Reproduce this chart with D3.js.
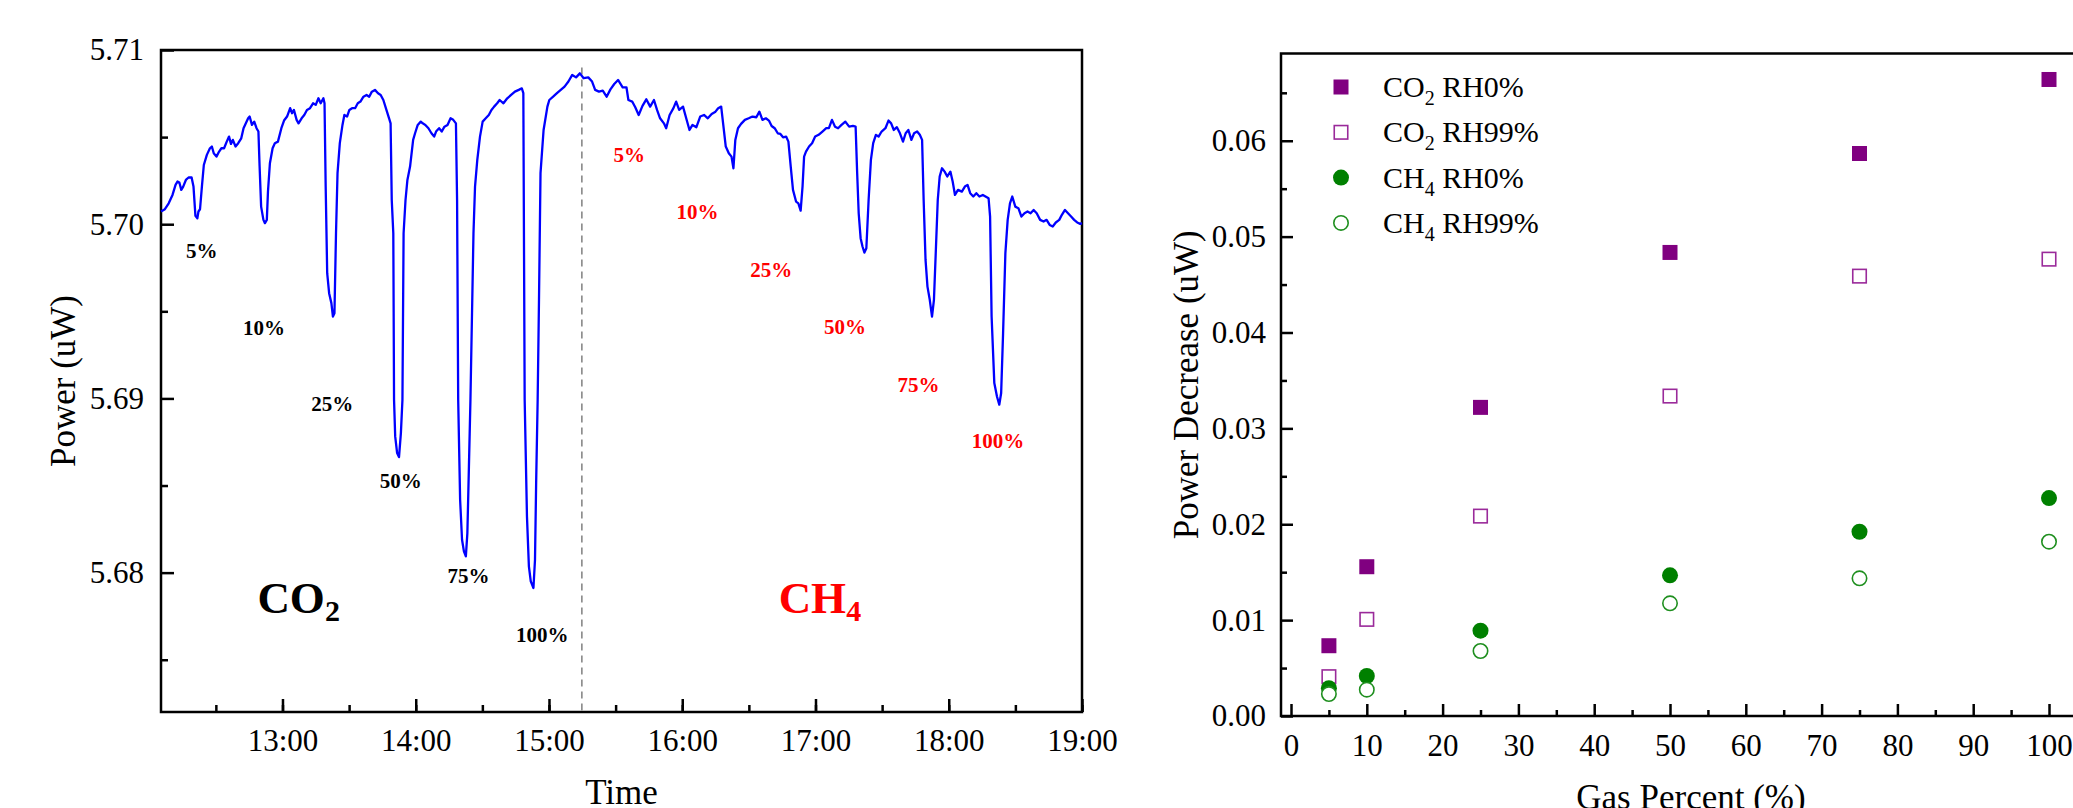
<!DOCTYPE html>
<html>
<head>
<meta charset="utf-8">
<script src="https://cdn.jsdelivr.net/npm/d3@7"></script>
<style>
  body { margin: 0; background: #fff; }
  svg { display: block; font-family: "Liberation Serif", "Times New Roman", serif; }
</style>
</head>
<body>
<div class="container"></div>
<script>
// ---- left panel: power trace, time in minutes after 12:00 ----
const traceMin = [5.33, 7.05, 8.77, 10.49, 11.86, 12.72, 13.58, 14.44, 15.30, 16.51, 17.71, 19.09, 19.94, 20.80, 21.67, 22.18, 22.87, 23.73, 24.59, 25.96, 27.34, 28.20, 29.06, 30.27, 31.47, 32.50, 33.70, 34.91, 35.94, 36.80, 37.66, 38.87, 40.07, 41.44, 42.48, 43.51, 44.54, 45.23, 46.26, 47.29, 48.32, 49.18, 49.70, 50.39, 51.42, 52.11, 52.96, 53.48, 54.34, 55.55, 56.58, 57.95, 59.50, 60.71, 62.08, 63.46, 64.32, 65.18, 66.38, 67.24, 68.62, 69.82, 71.03, 72.40, 73.78, 74.98, 76.19, 77.22, 78.42, 78.94, 79.45, 80.14, 81.00, 82.03, 82.72, 83.41, 84.10, 84.79, 85.82, 87.02, 87.88, 89.09, 90.12, 91.32, 92.70, 93.90, 95.10, 96.48, 97.86, 99.06, 100.26, 101.64, 103.02, 104.22, 105.42, 106.80, 108.00, 108.69, 109.21, 109.90, 110.24, 110.75, 111.62, 112.48, 113.33, 114.02, 114.54, 115.40, 116.26, 117.46, 118.84, 119.70, 120.90, 122.28, 123.14, 124.34, 125.72, 127.09, 128.30, 129.16, 130.53, 131.73, 132.94, 134.32, 135.69, 136.89, 138.10, 138.62, 139.13, 139.99, 140.85, 141.71, 142.57, 143.26, 143.95, 144.64, 146.01, 146.70, 147.73, 148.94, 150.14, 151.52, 152.90, 154.10, 155.30, 156.68, 157.79, 159.51, 161.23, 162.95, 164.67, 166.39, 167.77, 168.45, 169.06, 170.09, 170.95, 171.81, 173.01, 173.70, 174.22, 174.90, 175.50, 176.19, 177.57, 179.29, 180.15, 181.87, 183.59, 185.31, 187.03, 188.75, 190.47, 192.19, 193.91, 195.63, 197.69, 199.41, 200.79, 202.51, 204.23, 205.95, 207.67, 209.39, 211.11, 213.17, 214.89, 215.75, 217.47, 218.85, 220.39, 222.11, 223.83, 225.55, 227.27, 228.65, 230.03, 231.75, 232.78, 234.33, 236.04, 237.25, 238.63, 240.35, 242.07, 243.27, 244.64, 246.37, 248.09, 249.81, 251.53, 253.25, 254.97, 256.17, 257.54, 258.58, 259.61, 260.98, 262.19, 263.05, 263.91, 265.11, 266.49, 268.21, 269.93, 271.65, 273.37, 274.74, 276.12, 277.66, 279.04, 280.25, 281.62, 283.00, 284.20, 285.41, 286.78, 287.81, 288.85, 289.88, 291.25, 292.29, 293.32, 294.18, 294.87, 295.73, 297.10, 298.48, 299.85, 301.40, 303.12, 304.84, 306.04, 307.42, 308.80, 310.17, 311.72, 313.44, 315.16, 316.88, 318.08, 318.77, 319.46, 320.32, 321.18, 322.04, 322.90, 323.93, 324.96, 325.99, 327.20, 328.40, 329.78, 331.50, 332.88, 334.08, 335.28, 336.66, 338.04, 339.41, 340.61, 341.82, 343.19, 344.40, 345.77, 346.98, 348.01, 348.70, 349.56, 350.42, 351.45, 352.48, 353.34, 354.20, 355.06, 355.92, 356.95, 358.16, 359.36, 360.74, 361.77, 362.80, 364.18, 365.90, 367.27, 368.47, 369.68, 371.06, 372.43, 373.81, 375.36, 376.56, 377.94, 378.63, 379.31, 380.52, 381.72, 382.75, 383.61, 384.47, 385.50, 386.54, 387.57, 388.60, 389.98, 391.35, 392.73, 394.10, 395.48, 396.85, 398.23, 399.61, 401.15, 402.70, 404.08, 405.45, 406.83, 408.21, 409.75, 410.96, 412.34, 413.71, 415.09, 416.47, 417.84, 419.21, 420.00];
const tracePower = [5.70073, 5.70086, 5.70120, 5.70168, 5.70226, 5.70245, 5.70239, 5.70197, 5.70216, 5.70254, 5.70268, 5.70268, 5.70216, 5.70048, 5.70034, 5.70073, 5.70086, 5.70216, 5.70340, 5.70398, 5.70436, 5.70446, 5.70407, 5.70388, 5.70417, 5.70436, 5.70436, 5.70474, 5.70503, 5.70461, 5.70484, 5.70446, 5.70465, 5.70493, 5.70551, 5.70579, 5.70608, 5.70618, 5.70570, 5.70589, 5.70551, 5.70532, 5.70331, 5.70101, 5.70025, 5.70006, 5.70025, 5.70187, 5.70350, 5.70436, 5.70465, 5.70474, 5.70551, 5.70595, 5.70618, 5.70666, 5.70637, 5.70656, 5.70599, 5.70579, 5.70608, 5.70627, 5.70656, 5.70666, 5.70694, 5.70685, 5.70723, 5.70694, 5.70723, 5.70694, 5.70216, 5.69719, 5.69604, 5.69547, 5.69470, 5.69489, 5.69948, 5.70293, 5.70465, 5.70570, 5.70627, 5.70618, 5.70656, 5.70666, 5.70666, 5.70694, 5.70704, 5.70732, 5.70742, 5.70732, 5.70761, 5.70771, 5.70752, 5.70742, 5.70713, 5.70656, 5.70608, 5.70579, 5.70139, 5.69948, 5.68992, 5.68782, 5.68686, 5.68663, 5.68801, 5.68992, 5.69948, 5.70139, 5.70254, 5.70331, 5.70484, 5.70522, 5.70570, 5.70589, 5.70579, 5.70570, 5.70551, 5.70522, 5.70503, 5.70532, 5.70551, 5.70532, 5.70560, 5.70570, 5.70608, 5.70599, 5.70579, 5.70139, 5.68992, 5.68418, 5.68189, 5.68122, 5.68093, 5.68227, 5.68610, 5.68992, 5.69948, 5.70216, 5.70369, 5.70503, 5.70589, 5.70608, 5.70627, 5.70656, 5.70675, 5.70694, 5.70713, 5.70694, 5.70723, 5.70742, 5.70761, 5.70771, 5.70780, 5.70752, 5.68992, 5.68323, 5.68036, 5.67950, 5.67912, 5.68074, 5.68514, 5.68992, 5.69566, 5.70293, 5.70541, 5.70675, 5.70713, 5.70732, 5.70752, 5.70771, 5.70790, 5.70819, 5.70857, 5.70843, 5.70866, 5.70838, 5.70843, 5.70819, 5.70771, 5.70761, 5.70767, 5.70732, 5.70774, 5.70805, 5.70828, 5.70786, 5.70786, 5.70713, 5.70704, 5.70671, 5.70627, 5.70679, 5.70717, 5.70675, 5.70713, 5.70656, 5.70608, 5.70579, 5.70551, 5.70627, 5.70666, 5.70704, 5.70656, 5.70675, 5.70595, 5.70541, 5.70570, 5.70557, 5.70618, 5.70627, 5.70608, 5.70633, 5.70646, 5.70666, 5.70675, 5.70560, 5.70446, 5.70407, 5.70388, 5.70321, 5.70484, 5.70551, 5.70576, 5.70599, 5.70608, 5.70618, 5.70614, 5.70646, 5.70599, 5.70608, 5.70595, 5.70564, 5.70551, 5.70522, 5.70518, 5.70499, 5.70503, 5.70474, 5.70331, 5.70197, 5.70130, 5.70120, 5.70078, 5.70216, 5.70388, 5.70417, 5.70446, 5.70465, 5.70503, 5.70513, 5.70532, 5.70551, 5.70551, 5.70599, 5.70560, 5.70551, 5.70570, 5.70589, 5.70560, 5.70564, 5.70560, 5.70293, 5.70063, 5.69920, 5.69872, 5.69837, 5.69862, 5.70139, 5.70369, 5.70465, 5.70513, 5.70503, 5.70532, 5.70551, 5.70595, 5.70579, 5.70541, 5.70557, 5.70522, 5.70474, 5.70522, 5.70541, 5.70484, 5.70522, 5.70532, 5.70513, 5.70484, 5.70139, 5.69795, 5.69642, 5.69566, 5.69470, 5.69566, 5.69853, 5.70139, 5.70274, 5.70321, 5.70302, 5.70274, 5.70302, 5.70245, 5.70168, 5.70197, 5.70187, 5.70216, 5.70226, 5.70178, 5.70159, 5.70178, 5.70159, 5.70168, 5.70159, 5.70149, 5.70044, 5.69470, 5.69088, 5.69011, 5.68964, 5.69031, 5.69375, 5.69834, 5.70025, 5.70120, 5.70159, 5.70101, 5.70092, 5.70044, 5.70063, 5.70073, 5.70063, 5.70082, 5.70063, 5.70025, 5.70015, 5.70025, 5.69996, 5.69987, 5.70010, 5.70025, 5.70054, 5.70082, 5.70063, 5.70044, 5.70025, 5.70010, 5.70002, 5.70006];
const timeStartMin = 5.3;
const timeEndMin = 420;
const powerMin = 5.672;
const powerMax = 5.71;
const powerTicks = [5.68, 5.69, 5.70, 5.71];
const powerMinorTicks = [5.675, 5.685, 5.695, 5.705];
const switchMin = 194.8;      // CO2 -> CH4 change-over
const switchTopPower = 5.709;

const stepLabels = ["5%", "10%", "25%", "50%", "75%", "100%"];
const co2LabelMin = [23.7, 51.7, 82.4, 113.2, 143.8, 177.0];
const co2LabelPower = [5.69807, 5.69365, 5.68929, 5.68487, 5.67942, 5.67604];
const ch4LabelMin = [216.1, 246.9, 280.1, 313.3, 346.4, 382.2];
const ch4LabelPower = [5.70359, 5.70030, 5.69696, 5.69371, 5.69036, 5.68714];
const gasNames = ["CO", "CH"];
const gasSubs = ["2", "4"];
const gasNameMin = [48.7, 283.4];
const gasNamePower = [5.67768, 5.67768];

// ---- right panel: power decrease vs gas percent ----
const gasPercent = [5, 10, 25, 50, 75, 100];
const co2Rh0 = [0.00733, 0.01557, 0.03219, 0.04835, 0.05867, 0.06639];
const co2Rh99 = [0.00410, 0.01008, 0.02085, 0.03337, 0.04588, 0.04765];
const ch4Rh0 = [0.00290, 0.00417, 0.00890, 0.01467, 0.01922, 0.02273];
const ch4Rh99 = [0.00229, 0.00275, 0.00678, 0.01175, 0.01436, 0.01818];
const percentTicks = [0, 10, 20, 30, 40, 50, 60, 70, 80, 90, 100];
const percentMinorTicks = [5, 15, 25, 35, 45, 55, 65, 75, 85, 95];
const decreaseTicks = [0, 0.01, 0.02, 0.03, 0.04, 0.05, 0.06];
const decreaseMinorTicks = [0.005, 0.015, 0.025, 0.035, 0.045, 0.055, 0.065];
const seriesNames = ["RH0%", "RH99%", "RH0%", "RH99%"];

const W = 2073, H = 808;
const svg = d3.select('.container').append('svg')
  .attr('width', W).attr('height', H);
svg.append('rect').attr('width', W).attr('height', H).attr('fill', '#fff');

const atMin = m => new Date(2020, 0, 1, 12, 0, m * 60);

// ================= left panel =================
const L = { left: 161, right: 1082, top: 50, bottom: 712 };
const xT = d3.scaleTime().domain([atMin(timeStartMin), atMin(timeEndMin)]).range([L.left, L.right]);
const yP = d3.scaleLinear().domain([powerMin, powerMax]).range([L.bottom, L.top]);

function styleAxis(g) {
  g.select('.domain').remove();
  g.selectAll('line').attr('stroke', '#000').attr('stroke-width', 2.5);
  g.selectAll('text').attr('fill', '#000');
}

svg.append('g').attr('transform', `translate(0,${L.bottom})`)
  .call(d3.axisBottom(xT).ticks(d3.timeHour.every(1)).tickFormat(d3.timeFormat('%H:%M'))
    .tickSizeInner(-13).tickSizeOuter(0).tickPadding(17))
  .call(styleAxis)
  .attr('font-size', 31).attr('font-family', null);

svg.append('g').attr('transform', `translate(0,${L.bottom})`)
  .call(d3.axisBottom(xT).ticks(d3.timeMinute.every(30)).tickFormat('')
    .tickSizeInner(-7).tickSizeOuter(0))
  .call(styleAxis);

svg.append('g').attr('transform', `translate(${L.left},0)`)
  .call(d3.axisLeft(yP).tickValues(powerTicks).tickFormat(d3.format('.2f'))
    .tickSizeInner(-13).tickSizeOuter(0).tickPadding(17))
  .call(styleAxis)
  .attr('font-size', 31).attr('font-family', null);

svg.append('g').attr('transform', `translate(${L.left},0)`)
  .call(d3.axisLeft(yP).tickValues(powerMinorTicks).tickFormat('')
    .tickSizeInner(-7).tickSizeOuter(0))
  .call(styleAxis);

svg.append('rect')
  .attr('x', L.left).attr('y', L.top)
  .attr('width', L.right - L.left).attr('height', L.bottom - L.top)
  .attr('fill', 'none').attr('stroke', '#000').attr('stroke-width', 2.5);

svg.append('line')
  .attr('x1', xT(atMin(switchMin))).attr('x2', xT(atMin(switchMin)))
  .attr('y1', yP(switchTopPower)).attr('y2', yP(powerMin))
  .attr('stroke', '#888').attr('stroke-width', 1.6).attr('stroke-dasharray', '7,5');

const trace = traceMin.map((m, i) => [atMin(m), tracePower[i]]);
svg.append('path')
  .datum(trace)
  .attr('fill', 'none').attr('stroke', '#0000ff').attr('stroke-width', 2.3)
  .attr('stroke-linejoin', 'round')
  .attr('d', d3.line().x(d => xT(d[0])).y(d => yP(d[1])));

const stepG = svg.append('g').attr('font-size', 21).attr('font-weight', 'bold').attr('text-anchor', 'middle');
stepG.selectAll('text.co2').data(stepLabels).join('text').attr('class', 'co2')
  .attr('x', (d, i) => xT(atMin(co2LabelMin[i]))).attr('y', (d, i) => yP(co2LabelPower[i]))
  .attr('fill', '#000').text(d => d);
stepG.selectAll('text.ch4').data(stepLabels).join('text').attr('class', 'ch4')
  .attr('x', (d, i) => xT(atMin(ch4LabelMin[i]))).attr('y', (d, i) => yP(ch4LabelPower[i]))
  .attr('fill', '#ff0000').text(d => d);

gasNames.forEach((g, i) => {
  const t = svg.append('text')
    .attr('x', xT(atMin(gasNameMin[i]))).attr('y', yP(gasNamePower[i]))
    .attr('font-size', 45).attr('font-weight', 'bold')
    .attr('fill', i === 0 ? '#000' : '#ff0000');
  t.append('tspan').text(g);
  t.append('tspan').attr('font-size', 30).attr('dy', 8).text(gasSubs[i]);
});

svg.append('text')
  .attr('transform', `translate(75,${(L.top + L.bottom) / 2}) rotate(-90)`)
  .attr('text-anchor', 'middle').attr('font-size', 35).text('Power (uW)');
svg.append('text')
  .attr('x', (L.left + L.right) / 2).attr('y', 804)
  .attr('text-anchor', 'middle').attr('font-size', 35).text('Time');

// ================= right panel =================
const R = { left: 1281, top: 53.5, bottom: 716 };
const xG = d3.scaleLinear().domain([-1.32, 105]).range([R.left, R.left + 106.32 * 7.58]);
const yD = d3.scaleLinear().domain([0, 0.0691]).range([R.bottom, R.top]);

svg.append('g').attr('transform', `translate(0,${R.bottom})`)
  .call(d3.axisBottom(xG).tickValues(percentTicks).tickFormat(d3.format('d'))
    .tickSizeInner(-12).tickSizeOuter(0).tickPadding(18))
  .call(styleAxis)
  .attr('font-size', 31).attr('font-family', null);
svg.append('g').attr('transform', `translate(0,${R.bottom})`)
  .call(d3.axisBottom(xG).tickValues(percentMinorTicks).tickFormat('')
    .tickSizeInner(-6).tickSizeOuter(0))
  .call(styleAxis);
svg.append('g').attr('transform', `translate(${R.left},0)`)
  .call(d3.axisLeft(yD).tickValues(decreaseTicks).tickFormat(d3.format('.2f'))
    .tickSizeInner(-12).tickSizeOuter(0).tickPadding(15))
  .call(styleAxis)
  .attr('font-size', 31).attr('font-family', null);
svg.append('g').attr('transform', `translate(${R.left},0)`)
  .call(d3.axisLeft(yD).tickValues(decreaseMinorTicks).tickFormat('')
    .tickSizeInner(-6).tickSizeOuter(0))
  .call(styleAxis);

svg.append('rect')
  .attr('x', R.left).attr('y', R.top)
  .attr('width', xG.range()[1] - R.left).attr('height', R.bottom - R.top)
  .attr('fill', 'none').attr('stroke', '#000').attr('stroke-width', 2.5);

const purple = '#800080', purpleLine = '#9a2a9a', green = '#008000', greenLine = '#1f8f1f';
const series = [
  { vals: co2Rh0, shape: 'square', fill: purple, stroke: 'none' },
  { vals: co2Rh99, shape: 'square', fill: '#fff', stroke: purpleLine },
  { vals: ch4Rh0, shape: 'circle', fill: green, stroke: 'none' },
  { vals: ch4Rh99, shape: 'circle', fill: '#fff', stroke: greenLine }
];

function drawMarker(sel, s) {
  if (s.shape === 'square') {
    const side = s.stroke === 'none' ? 15 : 13.5;
    sel.append('rect').attr('x', -side / 2).attr('y', -side / 2)
      .attr('width', side).attr('height', side)
      .attr('fill', s.fill).attr('stroke', s.stroke).attr('stroke-width', 1.6);
  } else {
    sel.append('circle').attr('r', s.stroke === 'none' ? 8 : 7.2)
      .attr('fill', s.fill).attr('stroke', s.stroke).attr('stroke-width', 1.6);
  }
}

series.forEach(s => {
  svg.append('g').selectAll('g').data(gasPercent).join('g')
    .attr('transform', (d, i) => `translate(${xG(d)},${yD(s.vals[i])})`)
    .each(function () { drawMarker(d3.select(this), s); });
});

// legend
const legend = svg.append('g').attr('transform', 'translate(1341,87)');
series.forEach((s, i) => {
  const row = legend.append('g').attr('transform', `translate(0,${i * 45.3})`);
  drawMarker(row, s);
  const t = row.append('text').attr('x', 42).attr('y', 10).attr('font-size', 30);
  t.append('tspan').text(i < 2 ? 'CO' : 'CH');
  t.append('tspan').attr('font-size', 20).attr('dy', 8).text(i < 2 ? '2' : '4');
  t.append('tspan').attr('dy', -8).text(' ' + seriesNames[i]);
});

svg.append('text')
  .attr('transform', `translate(1198,${(R.top + R.bottom) / 2}) rotate(-90)`)
  .attr('text-anchor', 'middle').attr('font-size', 35).text('Power Decrease (uW)');
svg.append('text')
  .attr('x', 1691).attr('y', 809)
  .attr('text-anchor', 'middle').attr('font-size', 35).text('Gas Percent (%)');
</script>
</body>
</html>
